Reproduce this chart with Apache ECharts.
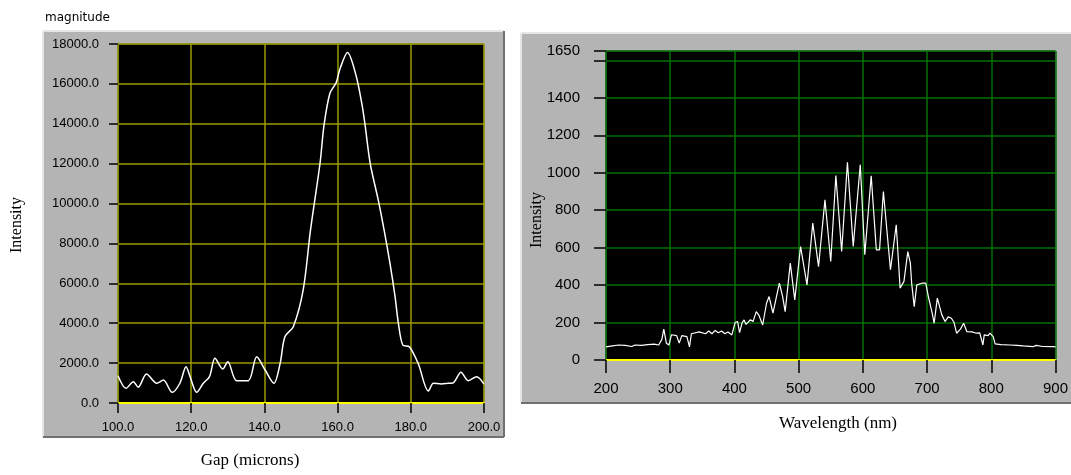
<!DOCTYPE html>
<html><head><meta charset="utf-8">
<script src="https://cdn.jsdelivr.net/npm/echarts@6/dist/echarts.min.js"></script>
<style>html,body{margin:0;padding:0;background:#fff}#c{width:1071px;height:475px}</style>
</head><body><div id="c"></div>
<script>
// Left chart: Gap (microns) vs Intensity
const gapX = [100,102.2,104.2,105.5,107.8,110.6,112.4,114.8,116.9,118.6,119.7,121.5,123.3,125,126.5,128.6,130,132.4,135.6,137.9,140.2,142.6,144.3,145.6,147.9,150.6,152.6,155.2,156.3,157.9,159.6,160.7,162.7,165,166.6,167.5,168.9,171.1,172.7,174.3,175.7,176.6,177.8,179.6,182,184.8,186.2,188.4,190.2,191.5,193.7,195.7,198,200];
const gapY = [1370,740,1070,790,1455,990,1150,535,990,1820,1320,535,990,1320,2240,1705,2070,1120,1120,2320,1655,990,1990,3325,3825,5670,8680,12020,13940,15530,16060,16780,17570,16450,15030,13940,12020,10180,8680,7010,5330,4000,2910,2825,1990,600,990,950,990,1000,1540,1120,1320,950];

// Right chart: Wavelength (nm) vs Intensity
const wl = [200,203,210,220,230,240,245,255,265,275,282,287,290,294,298,302,310,314,318,326,330,333,345,355,360,365,370,375,380,385,390,396,399,401,405,408,412,415,418,421,425,429,434,438,444,450,454,460,465,470,475,479,487,494,503,513,522,531,541,550,558,567,576,585,596,603,613,621,626,632,643,652,658,664,670,674,676,680,684,692,698,702,708,711,716,723,728,733,738,742,746,752,757,762,770,777,782,787,789,795,798,803,806,815,829,840,850,865,870,880,897,900];
const wlI = [70,78,75,80,78,72,80,78,82,85,80,110,165,90,80,135,130,90,130,125,70,140,150,140,155,140,158,145,155,140,150,134,140,200,205,146,200,214,190,196,215,205,258,240,187,303,339,250,330,410,340,258,517,321,606,401,731,499,856,526,985,579,1056,606,1043,562,984,588,588,900,482,722,384,420,579,517,410,285,401,410,410,339,250,196,330,241,205,230,223,200,143,165,196,151,150,143,145,80,134,130,143,125,86,82,80,78,75,71,78,72,71,70];

const leftYTicks = {min:0, max:18000, step:2000};
const leftXTicks = {min:100, max:200, step:20};
const rightYTicks = {min:0, max:1650, step:200};
const rightXTicks = {min:200, max:900, step:100};

const chart = echarts.init(document.getElementById('c'), null, {renderer:'canvas'});
const sans = 'Liberation Sans, Arial, sans-serif';
const serif = 'Liberation Serif, Times New Roman, serif';

function panel(x, y, w, h) {
  return [
    {type:'rect', z:-10, shape:{x:x, y:y, width:w, height:h}, style:{fill:'#b4b4b4'}},
    {type:'line', z:-9, shape:{x1:x, y1:y, x2:x+w, y2:y}, style:{stroke:'#e6e6e6', lineWidth:2}},
    {type:'line', z:-9, shape:{x1:x, y1:y, x2:x, y2:y+h}, style:{stroke:'#e6e6e6', lineWidth:2}},
    {type:'line', z:-9, shape:{x1:x, y1:y+h, x2:x+w, y2:y+h}, style:{stroke:'#707070', lineWidth:2}},
    {type:'line', z:-9, shape:{x1:x+w, y1:y, x2:x+w, y2:y+h}, style:{stroke:'#707070', lineWidth:2}}
  ];
}
const oliveGrid = {show:true, lineStyle:{color:'#9a9a00', width:1.5, opacity:1, type:'solid'}};
const greenGrid = {show:true, lineStyle:{color:'#007000', width:1.5, opacity:1, type:'solid'}};

const option = {
  animation:false,
  backgroundColor:'#ffffff',
  graphic: [].concat(
    panel(43, 31, 461, 406),
    panel(521, 33, 560, 370),
    [
      {type:'text', left:45, top:12, style:{text:'magnitude', font:'12px "DejaVu Sans", sans-serif', fill:'#000'}},
      {type:'text', x:17, y:225, rotation:Math.PI/2, style:{text:'Intensity', font:'16px '+serif, fill:'#000', align:'center', verticalAlign:'middle'}},
      {type:'text', x:250, y:461, style:{text:'Gap (microns)', font:'17px '+serif, fill:'#000', align:'center', verticalAlign:'middle'}},
      {type:'text', x:537, y:220, rotation:Math.PI/2, z:10, style:{text:'Intensity', font:'16px '+serif, fill:'#000', align:'center', verticalAlign:'middle'}},
      {type:'text', x:838, y:424, style:{text:'Wavelength (nm)', font:'17px '+serif, fill:'#000', align:'center', verticalAlign:'middle'}}
    ]
  ),
  grid: [
    {left:118, top:44, width:366, height:359, show:true, backgroundColor:'#000', borderColor:'#6a6a6a', borderWidth:1},
    {left:606, top:51, width:451, height:309, show:true, backgroundColor:'#000', borderColor:'#6a6a6a', borderWidth:1}
  ],
  xAxis: [
    {gridIndex:0, type:'value', min:leftXTicks.min, max:leftXTicks.max, interval:leftXTicks.step,
     axisLine:{show:true, onZero:false, lineStyle:{color:'#ffff00', width:2}},
     axisTick:{show:true, length:10, lineStyle:{color:'#000', width:1.5}},
     axisLabel:{color:'#000', fontFamily:sans, fontSize:13, margin:18, formatter:v=>v.toFixed(1)},
     splitLine:oliveGrid},
    {gridIndex:1, type:'value', min:rightXTicks.min, max:rightXTicks.max, interval:rightXTicks.step,
     axisLine:{show:true, onZero:false, lineStyle:{color:'#ffff00', width:2}},
     axisTick:{show:true, length:13, lineStyle:{color:'#000', width:1.5}},
     axisLabel:{color:'#000', fontFamily:sans, fontSize:15, margin:21, formatter:v=>String(v)},
     splitLine:greenGrid}
  ],
  yAxis: [
    {gridIndex:0, type:'value', min:leftYTicks.min, max:leftYTicks.max, interval:leftYTicks.step,
     axisLine:{show:false},
     axisTick:{show:true, length:9, lineStyle:{color:'#000', width:1.5}},
     axisLabel:{color:'#000', fontFamily:sans, fontSize:13, margin:19, formatter:v=>v.toFixed(1)},
     splitLine:oliveGrid},
    {gridIndex:1, type:'value', min:rightYTicks.min, max:rightYTicks.max, interval:rightYTicks.step,
     axisLine:{show:false},
     axisTick:{show:true, length:12, lineStyle:{color:'#000', width:1.5}},
     axisLabel:{color:'#000', fontFamily:sans, fontSize:15, margin:26, showMaxLabel:true, formatter:v=>(v===1600?'':String(v))},
     splitLine:greenGrid}
  ],
  series: [
    {type:'line', xAxisIndex:0, yAxisIndex:0, data:gapX.map((x,i)=>[x,gapY[i]]), showSymbol:false, smooth:0.3,
     lineStyle:{color:'#ffffff', width:1.5}},
    {type:'line', xAxisIndex:1, yAxisIndex:1, data:wl.map((x,i)=>[x,wlI[i]]), showSymbol:false,
     lineStyle:{color:'#ffffff', width:1.2}}
  ]
};
chart.setOption(option);
</script></body></html>
